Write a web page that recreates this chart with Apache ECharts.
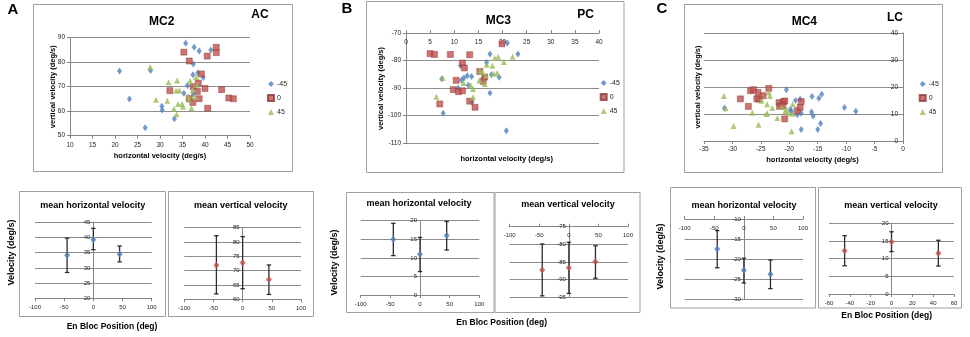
<!DOCTYPE html>
<html><head><meta charset="utf-8">
<script src="https://cdn.jsdelivr.net/npm/echarts@6/dist/echarts.min.js"></script>
<style>html,body{margin:0;padding:0;background:#fff}#c{width:970px;height:337px}</style>
</head><body><div id="c"></div>
<script>
// ---------- tick values (axis ranges) ----------
const ticksA_x = [10,15,20,25,30,35,40,45,50];
const ticksA_y = [50,60,70,80,90];
const ticksB_x = [0,5,10,15,20,25,30,35,40];
const ticksB_y = [-110,-100,-90,-80,-70];
const ticksC_x = [-35,-30,-25,-20,-15,-10,-5,0];
const ticksC_y = [0,10,20,30,40];
const ticksPos = [-100,-50,0,50,100];
const ticksPosC = [-60,-40,-20,0,20,40,60];
const ticksAh = [20,25,30,35,40,45];
const ticksAv = [60,65,70,75,80,85];
const ticksBh = [0,5,10,15,20];
const ticksBv = [-95,-90,-85,-80,-75];
const ticksCh = [-30,-25,-20,-15,-10];
const ticksCv = [0,5,10,15,20];

// ---------- legend categories ----------
const groups = ['-45','0','45'];

// ---------- scatter data: [horizontal, vertical] ----------
const A_m45 = [[21.0,76.4],[23.2,65],[26.7,53.2],[27.9,76.6],[30.4,62],[30.5,60.5],[33.2,56.9],[35.7,87.7],[37.6,86.1],[38.7,84.6],[41.3,85],[37.4,79.3],[37.3,74.9],[38.4,75.7],[39.6,73.8],[36.1,70.5],[35.3,67.3],[37.4,67.1]];
const A_0 = [[35.3,84.1],[36.5,80.5],[40.5,82.5],[42.5,86.1],[42.5,83.9],[39.2,75.2],[38.5,71.5],[32.2,68.4],[37.4,70],[40,69.3],[43.7,68.8],[38.3,68.1],[38.7,65.1],[37.3,63.6],[36.5,65.2],[40.6,61.2],[45.3,65.4],[46.3,65.1]];
const A_45 = [[27.8,78],[31.9,71.8],[33.8,72.5],[33.6,68.5],[34.3,68.5],[29.1,64.7],[31.6,64.3],[34,62.9],[33.1,61],[33.7,58.8],[35.1,61.8],[34.9,62.9],[37,61.3],[36.7,72.4],[38,74],[38.1,70.8],[37.3,68.8],[37.8,65.9],[36.3,66.1],[36.5,64.7]];

const B_m45 = [[17.4,-77.6],[23.2,-77.6],[21,-73.6],[16.7,-80.7],[17.7,-85.2],[19.3,-86.1],[11.3,-81.9],[12,-86.4],[11.5,-87.2],[12.7,-85.5],[13.6,-85.8],[7.4,-86.7],[10.8,-90],[12.9,-89],[17.4,-91.8],[13.7,-95.1],[7.7,-99.2],[20.8,-105.5],[16,-86.5]];
const B_0 = [[5,-77.5],[5.9,-77.8],[9.2,-77.8],[13.2,-77.9],[19.9,-73.9],[11.7,-80.9],[12.1,-82.7],[10.4,-87.2],[9.8,-90.6],[10.9,-91.3],[11.7,-91],[13.2,-94.8],[14.3,-97],[7,-95.8],[15.3,-84],[16.3,-86],[16,-87.6]];
const B_45 = [[7.6,-86.4],[6.3,-93.2],[15.3,-83.7],[15.8,-84.2],[16.7,-81.5],[17.9,-81.9],[18.4,-79.1],[19.1,-78.6],[20.3,-80.5],[22.1,-78.6],[18.2,-84.8],[18.9,-84.5],[16.5,-85.5],[15.2,-87.3],[16.3,-88.5],[11.9,-88.2],[13.4,-89],[13.9,-90.4],[13.9,-93.4]];

const C_m45 = [[-31.4,12.1],[-20.5,19],[-18.9,15],[-18.1,15.5],[-19.6,10.9],[-18.6,9.7],[-17.9,10.3],[-17.9,4.3],[-16,16.5],[-16.1,10.7],[-15.8,9.3],[-14.8,15.8],[-14.3,17.3],[-14.5,6.5],[-15,4.3],[-10.3,12.4],[-8.3,11],[-19.8,11.8]];
const C_0 = [[-28.6,15.6],[-27.2,12.8],[-26.8,18.6],[-26.3,19],[-25.5,18],[-25.7,15.6],[-25.3,15.5],[-24.6,16.8],[-23.6,19.5],[-21.8,14.2],[-21.7,12.8],[-21,14.6],[-20.8,14.8],[-20.8,8.2],[-18.6,11.2],[-18.1,12.4],[-17.9,14.6],[-21.2,13]];
const C_45 = [[-31.5,16.7],[-31.2,12.1],[-29.8,5.6],[-26.5,10.5],[-25.4,6],[-24.9,14.9],[-24,10],[-23.9,10.3],[-23.9,13.6],[-23.6,18],[-23.4,16.7],[-23,12.2],[-22.1,8.5],[-21.4,12.6],[-20.7,11],[-20.5,11.9],[-19.4,10.1],[-19.4,13.6],[-19.6,3.6],[-20.1,10.5]];

// ---------- mean velocities with error ranges ----------
const positions = [-45, 0, 45];
const A_hMean = [34.2, 39.3, 34.5], A_hLow = [28.5, 36, 32], A_hHigh = [39.8, 43, 37.2];
const A_vMean = [71.9, 72.8, 66.9], A_vLow = [61.9, 63.7, 61.7], A_vHigh = [82.2, 81.9, 72];
const B_hMean = [15, 11, 16], B_hLow = [10.6, 6.3, 12.1], B_hHigh = [19.3, 15.5, 19.8];
const B_vMean = [-87.3, -86.6, -84.9], B_vLow = [-94.6, -93.9, -89.6], B_vHigh = [-79.9, -79.4, -80.4];
const C_hMean = [-17.5, -22.8, -23.8], C_hLow = [-22.2, -26, -27.4], C_hHigh = [-12.9, -19.8, -20.25];
const C_vMean = [12.2, 14.8, 11.5], C_vLow = [8, 12, 7.9], C_vHigh = [16.5, 17.6, 15.2];

// ---------- styling ----------
const FF = "'Liberation Sans', Arial, sans-serif";
const AX = '#868686', GRIDC = '#8c8c8c', BORDER = '#a0a0a0';
const BLUE = '#4F81BD', RED = '#C0504D', GREEN = '#9BBB59';

function axis(gi, ticks, o, offset) {
  return {
    type: 'value', gridIndex: gi,
    min: ticks[0], max: ticks[ticks.length - 1], interval: ticks[1] - ticks[0],
    position: o.pos, offset: offset || 0,
    axisLine: { show: true, onZero: false, lineStyle: { color: AX, width: 1 } },
    axisTick: { show: true, length: 3, lineStyle: { color: AX } },
    axisLabel: { fontSize: o.fs || 6.5, color: '#262626', margin: o.margin, inside: !!o.inside, fontFamily: FF },
    splitLine: { show: !!o.split, lineStyle: { color: GRIDC, width: 1 } }
  };
}

const panels = [
  { grid: { left: 70, top: 37.7, width: 180, height: 98 }, x: [ticksA_x, { margin: 6 }], y: [ticksA_y, { margin: 5, split: true }] },
  { grid: { left: 406, top: 33, width: 193, height: 110 }, x: [ticksB_x, { pos: 'top', inside: true, margin: 6 }], y: [ticksB_y, { margin: 5, split: true }] },
  { grid: { left: 704, top: 33, width: 199, height: 108 }, x: [ticksC_x, { margin: 5 }], y: [ticksC_y, { margin: 5, split: true }] },
  { grid: { left: 35, top: 222.3, width: 116.7, height: 76 }, x: [ticksPos, { margin: 6, fs: 6 }], y: [ticksAh, { margin: 3, split: true, fs: 6 }] },
  { grid: { left: 184.3, top: 227.7, width: 116.7, height: 71.6 }, x: [ticksPos, { margin: 6, fs: 6 }], y: [ticksAv, { margin: 3, split: true, fs: 6 }] },
  { grid: { left: 360.7, top: 220.7, width: 118.6, height: 74.3 }, x: [ticksPos, { margin: 6, fs: 6 }], y: [ticksBh, { margin: 3, split: true, fs: 6 }] },
  { grid: { left: 509.7, top: 226.7, width: 118.3, height: 70.6 }, x: [ticksPos, { pos: 'top', inside: true, margin: 6, fs: 6 }], y: [ticksBv, { margin: 3, split: true, fs: 6 }] },
  { grid: { left: 684.7, top: 219, width: 118.3, height: 80 }, x: [ticksPos, { pos: 'top', inside: true, margin: 6, fs: 6 }], y: [ticksCh, { margin: 3, split: true, fs: 6 }] },
  { grid: { left: 829, top: 223.3, width: 125, height: 70.7 }, x: [ticksPosC, { margin: 6, fs: 6 }], y: [ticksCv, { margin: 3, split: true, fs: 6 }] }
];

// the vertical axis crosses the horizontal one at value 0 when 0 lies in its range
function zeroShift(p) {
  const t = p.x[0], mn = t[0], mx = t[t.length - 1];
  if (mn < 0 && mx >= 0) return -p.grid.width * (0 - mn) / (mx - mn);
  return 0;
}

const grids = panels.map(p => Object.assign({ containLabel: false }, p.grid));
const xAxes = panels.map((p, i) => axis(i, p.x[0], p.x[1], 0));
const yAxes = panels.map((p, i) => axis(i, p.y[0], p.y[1], zeroShift(p)));

const series = [];
function scatterSet(gi, d45m, d0, d45) {
  series.push({ type: 'scatter', name: groups[0], xAxisIndex: gi, yAxisIndex: gi, data: d45m, symbol: 'diamond', symbolSize: [5, 7], itemStyle: { color: BLUE } });
  series.push({ type: 'scatter', name: groups[1], xAxisIndex: gi, yAxisIndex: gi, data: d0, symbol: 'rect', symbolSize: 6, itemStyle: { color: RED, borderColor: '#8c3a37', borderWidth: 0.6 } });
  series.push({ type: 'scatter', name: groups[2], xAxisIndex: gi, yAxisIndex: gi, data: d45, symbol: 'triangle', symbolSize: 6, itemStyle: { color: GREEN } });
}
scatterSet(0, A_m45, A_0, A_45);
scatterSet(1, B_m45, B_0, B_45);
scatterSet(2, C_m45, C_0, C_45);

function errBar(params, api) {
  const x = api.value(0), lo = api.value(1), hi = api.value(2);
  const a = api.coord([x, hi]), b = api.coord([x, lo]);
  const st = { stroke: '#2b2b2b', lineWidth: 1.3 };
  return { type: 'group', children: [
    { type: 'line', shape: { x1: a[0], y1: a[1], x2: b[0], y2: b[1] }, style: st },
    { type: 'line', shape: { x1: a[0] - 2.2, y1: a[1], x2: a[0] + 2.2, y2: a[1] }, style: st },
    { type: 'line', shape: { x1: b[0] - 2.2, y1: b[1], x2: b[0] + 2.2, y2: b[1] }, style: st }
  ] };
}
function meanSet(gi, name, mean, low, high, color) {
  series.push({ type: 'custom', name: name + ' range', xAxisIndex: gi, yAxisIndex: gi, renderItem: errBar,
    encode: { x: 0, y: [1, 2] }, data: positions.map((p, i) => [p, low[i], high[i]]), z: 2 });
  series.push({ type: 'scatter', name: name, xAxisIndex: gi, yAxisIndex: gi, symbol: 'diamond', symbolSize: [6, 7],
    data: positions.map((p, i) => [p, mean[i]]), itemStyle: { color: color }, z: 3 });
}
meanSet(3, 'A mean horizontal velocity', A_hMean, A_hLow, A_hHigh, BLUE);
meanSet(4, 'A mean vertical velocity', A_vMean, A_vLow, A_vHigh, RED);
meanSet(5, 'B mean horizontal velocity', B_hMean, B_hLow, B_hHigh, BLUE);
meanSet(6, 'B mean vertical velocity', B_vMean, B_vLow, B_vHigh, RED);
meanSet(7, 'C mean horizontal velocity', C_hMean, C_hLow, C_hHigh, BLUE);
meanSet(8, 'C mean vertical velocity', C_vMean, C_vLow, C_vHigh, RED);

const icons = ['diamond', 'rect', 'triangle'];
function legendAt(left, top) {
  return { orient: 'vertical', left: left, top: top, padding: 0, itemWidth: 6, itemHeight: 6, itemGap: 6.5,
    selectedMode: false, textStyle: { fontSize: 7, color: '#262626', fontFamily: FF, padding: [0, 0, 0, -2] },
    data: groups.map((g, i) => ({ name: g, icon: icons[i] })) };
}

function txt(x, y, s, size, rot) {
  return { type: 'text', x: x, y: y, rotation: rot || 0, silent: true, z: 10,
    style: { text: s, fontSize: size, fontWeight: 'bold', fontFamily: FF, fill: '#000', align: 'center', verticalAlign: 'middle' } };
}
function box(x, y, w, h) {
  return { type: 'rect', silent: true, z: 0, shape: { x: x, y: y, width: w, height: h },
    style: { fill: 'none', stroke: BORDER, lineWidth: 1 } };
}
const R = Math.PI / 2;
const graphic = [
  box(33.5, 4.5, 259, 167), box(366.5, 1.5, 257.5, 171), box(684.5, 4.5, 258, 168),
  box(19.5, 191.5, 146, 125), box(168.5, 191.5, 145, 125),
  box(346.5, 192.5, 147.5, 120), box(495, 192.5, 145, 120),
  box(670.5, 187.5, 145, 120.5), box(818.5, 187.5, 143, 120.5),
  txt(13, 10, 'A', 15), txt(347, 9, 'B', 15), txt(662, 9, 'C', 15),
  txt(161.7, 21.7, 'MC2', 12), txt(260, 15, 'AC', 12),
  txt(498.3, 20.7, 'MC3', 12), txt(585.7, 15, 'PC', 12),
  txt(804.3, 21.7, 'MC4', 12), txt(895, 17.3, 'LC', 12),
  txt(160, 156, 'horizontal velocity (deg/s)', 7.5), txt(53.3, 86.7, 'vertical velocity (deg/s)', 7.5, R),
  txt(506.7, 159.3, 'horizontal velocity (deg/s)', 7.5), txt(380.7, 88.5, 'vertical velocity (deg/s)', 7.5, R),
  txt(812.5, 160, 'horizontal velocity (deg/s)', 7.5), txt(697.7, 87, 'vertical velocity (deg/s)', 7.5, R),
  txt(92.7, 206, 'mean horizontal velocity', 9), txt(240.7, 206, 'mean vertical velocity', 9),
  txt(419, 203.5, 'mean horizontal velocity', 9), txt(568, 204.5, 'mean vertical velocity', 9),
  txt(744, 205.5, 'mean horizontal velocity', 9), txt(891, 205.5, 'mean vertical velocity', 9),
  txt(12, 252.5, 'Velocity (deg/s)', 9, R), txt(335, 262.5, 'Velocity (deg/s)', 9, R), txt(660.7, 256.5, 'Velocity (deg/s)', 9, R),
  txt(112, 327, 'En Bloc Position (deg)', 8.5), txt(501.7, 322.7, 'En Bloc Position (deg)', 8.5), txt(886.7, 316, 'En Bloc Position (deg)', 8.5)
];

const chart = echarts.init(document.getElementById('c'), null, { renderer: 'canvas' });
chart.setOption({
  animation: false,
  backgroundColor: '#fff',
  grid: grids, xAxis: xAxes, yAxis: yAxes, series: series,
  legend: [legendAt(267, 80.5), legendAt(599.7, 79.5), legendAt(918.7, 80.5)],
  graphic: graphic
});
</script></body></html>
